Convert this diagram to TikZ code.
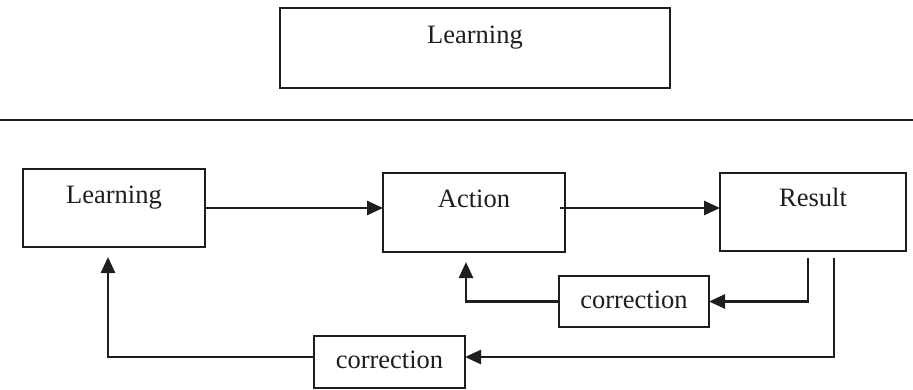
\documentclass[tikz,border=0pt]{standalone}
\usepackage{fontspec}
\setmainfont{Liberation Serif}
\usetikzlibrary{arrows.meta}
\definecolor{ink}{HTML}{1E1E1E}
\begin{document}
\begin{tikzpicture}[x=1pt,y=-1pt,
  box/.style={draw=ink,line width=2pt,rectangle,inner sep=0pt,outer sep=0pt},
  lab/.style={anchor=base,inner sep=0pt,text=ink,font=\fontsize{26.5}{30}\selectfont},
  arr/.style={draw=ink,line width=2.6pt,-{Triangle[length=16pt,width=14pt]}}]
\useasboundingbox (0,0) rectangle (913,389);
% top part
\node[box,minimum width=390pt,minimum height=80pt] (top) at (475,48) {};
\node[lab] (toplab) at (475,43) {Learning};
\draw[ink,line width=2.6pt] (0,120) coordinate (hl) -- (913,120) coordinate (hr);
% bottom boxes
\node[box,minimum width=182pt,minimum height=78pt] (learn) at (114,208) {};
\node[lab] (learnlab) at (114,203) {Learning};
\node[box,minimum width=182pt,minimum height=79pt] (action) at (474,212.5) {};
\node[lab] (actionlab) at (474,207) {Action};
\node[box,minimum width=186pt,minimum height=78pt] (result) at (813,212) {};
\node[lab] (resultlab) at (813,206) {Result};
\node[box,minimum width=150pt,minimum height=51pt] (corr1) at (634,301.5) {};
\node[lab] (corr1lab) at (634,308) {correction};
\node[box,minimum width=151pt,minimum height=52pt] (corr2) at (389.5,362) {};
\node[lab] (corr2lab) at (389.5,368) {correction};
% forward arrows
\draw[arr] ([xshift=-1pt]learn.east) -- (learn.east -| action.west);
\draw[arr] ([xshift=-5pt]action.east |- learn.east) -- (result.west |- learn.east);
% feedback
\coordinate (r1) at (808,258);
\coordinate (r2) at (834,258);
\coordinate (a1) at (466,262);
\coordinate (l1) at (108,257);
\draw[arr] (r1) |- (corr1.east);
\draw[arr] (corr1.west) -| (a1);
\draw[arr] (r2) |- ([yshift=5pt]corr2.east);
\draw[arr] ([yshift=5pt]corr2.west) -| (l1);
\end{tikzpicture}
\end{document}
